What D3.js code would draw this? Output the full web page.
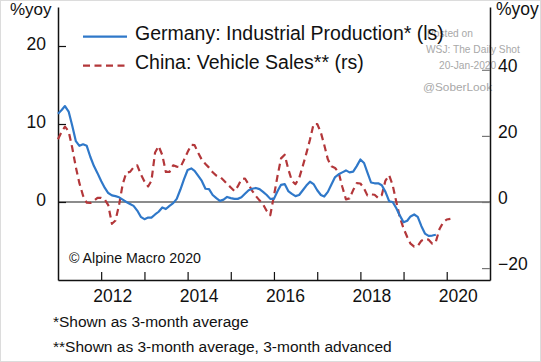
<!DOCTYPE html>
<html lang="en">
<head>
    <meta charset="UTF-8">
    <title>Germany Industrial Production vs China Vehicle Sales</title>
    <style>
        body {
            margin: 0;
            background: #fff;
        }
        svg text {
            font-family: "Liberation Sans", Arial, sans-serif;
        }
    </style>
</head>
<body>
<script src="https://cdn.jsdelivr.net/npm/d3@7"></script>
<script>

    // monthly series, first point is Jan 2011
    var startMonth = '2011-01';

    // Germany: industrial production, %yoy, 3mma (left scale)
    var germanyIP = [
        11.3, 11.8, 12.3, 11.6, 9.8, 7.8, 7.2, 7.4, 7.2, 5.8, 4.6, 3.7,
        2.7, 1.8, 1.15, 0.85, 0.75, 0.6, 0.3, 0.0, -0.25, -0.5, -1.1, -1.9,
        -2.2, -2.0, -2.0, -1.6, -1.25, -0.7, -0.9, -0.5, -0.15, 0.4, 1.6, 2.9,
        4.1, 4.3, 4.0, 3.35, 2.7, 1.7, 1.65, 0.9, 0.5, 0.15, 0.3, 0.65,
        0.5, 0.4, 0.4, 0.6, 1.05, 1.5, 1.7, 1.8, 1.65, 1.3, 0.9, 0.4,
        0.4, 1.4, 2.2, 2.3, 1.4, 1.05, 0.75, 0.9, 1.5, 2.1, 2.6, 2.3,
        1.5, 0.9, 0.7, 1.3, 2.25, 3.2, 3.55, 3.8, 4.05, 3.8, 3.9, 4.6,
        5.45, 5.0, 3.8, 2.5, 2.4, 2.4, 2.15, 1.3, 0.1, 0.0, -0.8, -1.75,
        -2.6, -2.4, -1.85, -1.6, -1.9, -3.1, -4.05, -4.35, -4.3, -4.2
    ];

    // China: vehicle sales, %yoy, 3mma, advanced 3 months (right scale)
    var chinaSales = [
        19.0, 21.3, 22.8, 21.4, 16.5, 10.5, 5.7, 1.9, -0.2, -0.3, 0.4, 1.25,
        1.25, 0.7, -0.95, -6.6, -5.6, -0.8, 5.4, 8.9, 9.1, 10.5, 11.1, 8.4,
        6.2, 4.7, 6.4, 15.0, 16.9, 14.2, 9.1, 9.1, 11.1, 10.7, 10.5, 12.7,
        15.1, 17.3, 17.2, 14.8, 12.8, 11.5, 10.4, 9.0, 8.0, 7.7, 6.6, 5.5,
        4.4, 3.3, 4.7, 6.9, 7.1, 5.3, 3.4, 1.8, 0.5, -0.7, -2.7, -4.0,
        1.9, 8.0, 13.2, 14.3, 10.0, 6.4, 5.4, 7.2, 10.9, 14.7, 18.9, 23.6,
        23.6, 21.0, 17.3, 12.9, 10.8, 10.3, 8.9, 4.6, 0.8, 1.1, 3.6, 5.7,
        5.6, 4.1, 2.0, 2.3, 2.2, 1.2, 2.1, 6.5, 8.1, 5.1, 0.0, -4.7,
        -8.0, -10.6, -12.6, -13.5, -13.3, -11.7, -11.2, -11.4, -12.6, -12.0, -8.2, -6.2,
        -5.3, -5.1
    ];

    var leftTicks = [0, 10, 20];
    var rightTicks = [-20, 0, 20, 40];
    var yearTicks = [2012, 2013, 2014, 2015, 2016, 2017, 2018, 2019, 2020];
    var yearLabels = [2012, 2014, 2016, 2018, 2020];

    var seriesNames = [
        'Germany: Industrial Production* (ls)',
        'China: Vehicle Sales** (rs)'
    ];
    var footnotes = [
        '*Shown as 3-month average',
        '**Shown as 3-month average, 3-month advanced'
    ];
    var watermark = ['Posted on', 'WSJ: The Daily Shot', '20-Jan-2020', '@SoberLook'];

    var width = 541,
        height = 362;

    var blue = '#2f78c9',
        red = '#b3373a';

    var parseMonth = d3.timeParse('%Y-%m');
    var start = parseMonth(startMonth);
    var toPoints = vals => vals.map((v, i) => ({date: d3.timeMonth.offset(start, i), value: v}));

    var x = d3.scaleTime()
        .domain([new Date(2011, 0, 1), new Date(2021, 0, 1)])
        .range([58, 490]);

    var yLeft = d3.scaleLinear()
        .domain([-10, 25])
        .range([280, 7]);

    var yRight = d3.scaleLinear()
        .domain([-23.6, 59])
        .range([280, 7]);

    var svg = d3.select('body').append('svg')
        .attr('width', width)
        .attr('height', height);

    svg.append('rect')
        .attr('x', 0.5)
        .attr('y', 0.5)
        .attr('width', width - 1)
        .attr('height', height - 1)
        .attr('fill', '#fff')
        .attr('stroke', '#dcdcdc');

    // watermark sits behind everything
    var wm = svg.append('g')
        .attr('fill', '#a8a8a8');
    var wmPos = [[427, 37, 10.2], [426, 53, 10.2], [439, 68.5, 10.2], [423, 91, 11.8]];
    wm.selectAll('text')
        .data(watermark)
        .enter()
        .append('text')
        .attr('x', (d, i) => wmPos[i][0])
        .attr('y', (d, i) => wmPos[i][1])
        .attr('font-size', (d, i) => wmPos[i][2])
        .text(d => d);

    // zero line
    svg.append('line')
        .attr('x1', x.range()[0])
        .attr('x2', x.range()[1])
        .attr('y1', yLeft(0))
        .attr('y2', yLeft(0))
        .attr('stroke', '#8c8c8c')
        .attr('stroke-width', 2);

    // axes
    var gl = svg.append('g')
        .attr('transform', 'translate(58,0)')
        .call(d3.axisLeft(yLeft).tickValues(leftTicks).tickSizeInner(-8).tickSizeOuter(0).tickPadding(12));

    var gr = svg.append('g')
        .attr('transform', 'translate(490,0)')
        .call(d3.axisRight(yRight).tickValues(rightTicks).tickSizeInner(-8).tickSizeOuter(0).tickPadding(8));

    var gb = svg.append('g')
        .attr('transform', 'translate(0,280)')
        .call(d3.axisBottom(x)
            .tickValues(yearTicks.map(y => new Date(y, 0, 1)))
            .tickSizeInner(-8)
            .tickSizeOuter(0)
            .tickFormat(d => yearLabels.indexOf(d.getFullYear()) >= 0 ? d.getFullYear() : ''));

    [gl, gr, gb].forEach(g => {
        g.selectAll('.domain').attr('stroke', '#111').attr('stroke-width', 1.5);
        g.selectAll('.tick line').attr('stroke', '#111').attr('stroke-width', 1.2);
        g.selectAll('.tick text')
            .attr('fill', '#111')
            .attr('font-size', 17.5)
            .attr('font-family', '"Liberation Sans", Arial, sans-serif');
    });

    gr.selectAll('.tick line').attr('stroke', '#777');
    gl.selectAll('.tick text').attr('dy', '0.18em');
    gr.selectAll('.tick text').attr('dy', '0.1em');
    gb.selectAll('.tick text')
        .attr('y', 22)
        .attr('dy', 0)
        .attr('dx', 11);

    // series
    var lineLeft = d3.line()
        .x(d => x(d.date))
        .y(d => yLeft(d.value));

    var lineRight = d3.line()
        .x(d => x(d.date))
        .y(d => yRight(d.value));

    svg.append('path')
        .datum(toPoints(chinaSales))
        .attr('fill', 'none')
        .attr('stroke', red)
        .attr('stroke-width', 2.2)
        .attr('stroke-dasharray', '7,4.5')
        .attr('stroke-linejoin', 'round')
        .attr('d', lineRight);

    svg.append('path')
        .datum(toPoints(germanyIP))
        .attr('fill', 'none')
        .attr('stroke', blue)
        .attr('stroke-width', 2.2)
        .attr('stroke-linejoin', 'round')
        .attr('d', lineLeft);

    // unit labels
    svg.append('text')
        .attr('x', 10)
        .attr('y', 15)
        .attr('font-size', 17)
        .attr('fill', '#111')
        .text('%yoy');

    svg.append('text')
        .attr('x', 496)
        .attr('y', 15)
        .attr('font-size', 17.5)
        .attr('fill', '#111')
        .text('%yoy');

    // legend
    var lg = svg.append('g');
    var styles = [{color: blue, dash: null}, {color: red, dash: '7,4.5'}];
    var ly = [36.7, 65.7];

    lg.selectAll('line')
        .data(styles)
        .enter()
        .append('line')
        .attr('x1', 83)
        .attr('x2', 127)
        .attr('y1', (d, i) => ly[i])
        .attr('y2', (d, i) => ly[i])
        .attr('stroke', d => d.color)
        .attr('stroke-width', 2.2)
        .attr('stroke-dasharray', d => d.dash);

    lg.selectAll('text')
        .data(seriesNames)
        .enter()
        .append('text')
        .attr('x', 135)
        .attr('y', (d, i) => ly[i] + 3.6)
        .attr('font-size', 19.5)
        .attr('fill', '#111')
        .text(d => d);

    svg.append('text')
        .attr('x', 69)
        .attr('y', 262.5)
        .attr('font-size', 14.2)
        .attr('fill', '#111')
        .text('\u00a9 Alpine Macro 2020');

    svg.selectAll('.note')
        .data(footnotes)
        .enter()
        .append('text')
        .attr('class', 'note')
        .attr('x', 53)
        .attr('y', (d, i) => 326.7 + i * 25)
        .attr('font-size', 15.5)
        .attr('fill', '#111')
        .text(d => d);
</script>
</body>
</html>
